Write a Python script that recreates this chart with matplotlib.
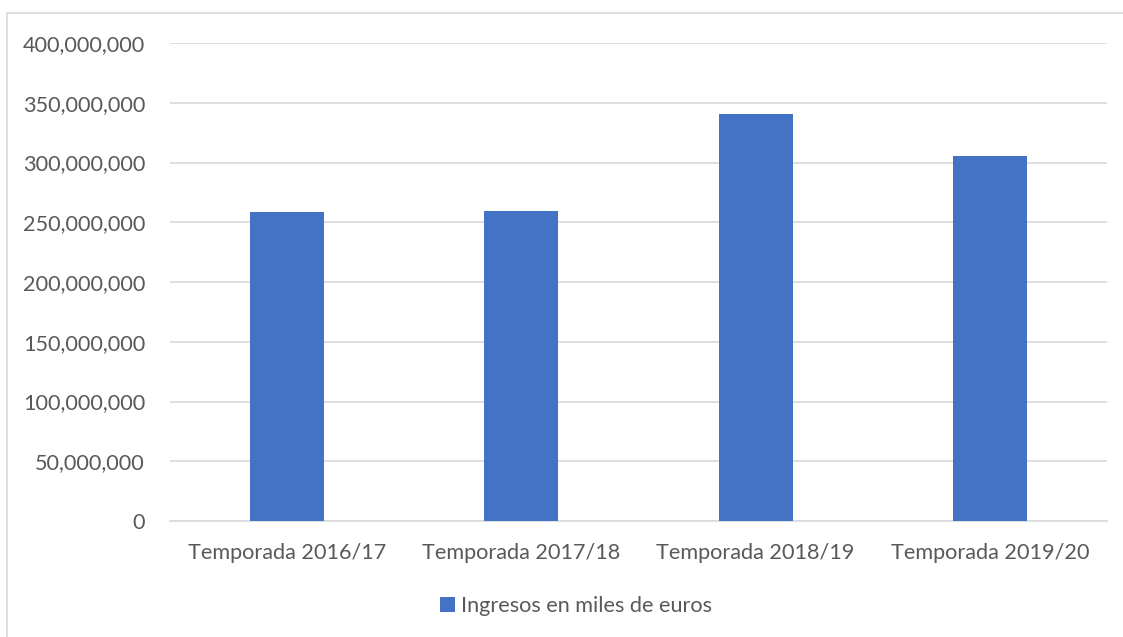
import matplotlib
matplotlib.use("Agg")
import matplotlib.pyplot as plt
from matplotlib.patches import Rectangle
from matplotlib.ticker import FuncFormatter, MultipleLocator

categories = ["Temporada 2016/17", "Temporada 2017/18", "Temporada 2018/19", "Temporada 2019/20"]
values = [258600000, 259500000, 340600000, 305200000]
series_name = "Ingresos en miles de euros"

W, H = 1123, 637
fig = plt.figure(figsize=(W / 100, H / 100), dpi=100)
plt.rcParams['font.family'] = ['Lato', 'DejaVu Sans']

# outer frame (partially visible)
fig.patches.append(Rectangle((7 / W, -0.05), 1.2, 1 - 13 / H + 0.05, transform=fig.transFigure,
                             fill=False, edgecolor="#d9d9d9", linewidth=1.2))

ax = fig.add_axes([170 / W, 1 - 521 / H, (1107 - 170) / W, (521 - 43) / H])
x = range(len(categories))
ax.bar(x, values, width=0.315, color="#4472c4", zorder=3, label=series_name)
ax.set_xlim(-0.5, len(categories) - 0.5)
ax.set_ylim(0, 400000000)
ax.yaxis.set_major_locator(MultipleLocator(50000000))
ax.yaxis.set_major_formatter(FuncFormatter(lambda v, p: f"{int(v):,}"))
ax.grid(axis="y", color="#d9d9d9", linewidth=1.2, zorder=0)
for s in ["top", "right", "left"]:
    ax.spines[s].set_visible(False)
ax.spines["bottom"].set_color("#d9d9d9")
ax.spines["bottom"].set_linewidth(1.2)
ax.tick_params(axis="both", length=0, labelsize=15.6, colors="#595959")
ax.tick_params(axis="y", pad=18)
ax.tick_params(axis="x", pad=16)
ax.set_xticks(list(x))
ax.set_xticklabels(categories)

fig.legend(loc="center", bbox_to_anchor=(576 / W, 1 - 606 / H), frameon=False,
           fontsize=15.6, labelcolor="#595959", handlelength=0.7, handleheight=0.7,
           handletextpad=0.3)

fig.savefig("out.png", dpi=100)
